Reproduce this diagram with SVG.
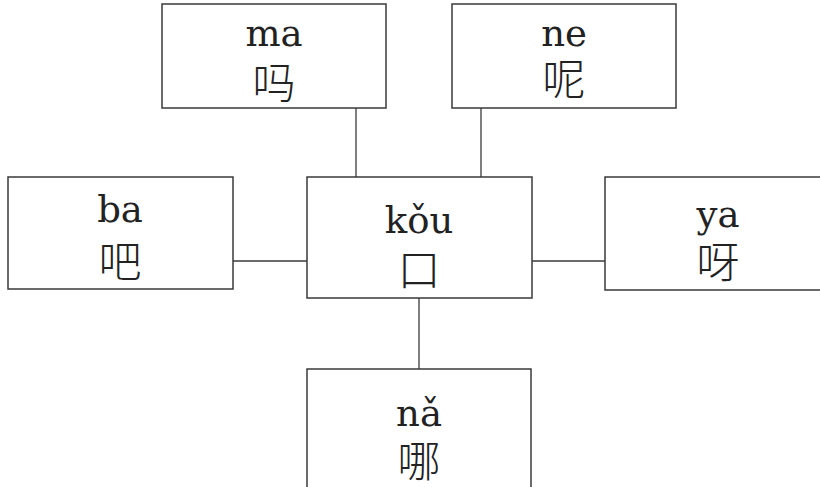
<svg xmlns="http://www.w3.org/2000/svg" width="820" height="487" viewBox="0 0 820 487">
<style>
.box{fill:#fff;stroke:#3a3a3a;stroke-width:1.5}
.lat{font-family:"DejaVu Serif","Liberation Serif",serif;font-size:37px;fill:#222;text-anchor:middle}
.cjk{font-family:"Noto Sans CJK SC","Noto Sans CJK TC",sans-serif;font-size:43px;font-weight:300;fill:#222;text-anchor:middle}
.con{stroke:#3a3a3a;stroke-width:1.3;fill:none}
</style>
<rect width="820" height="487" fill="#fff"/>
<g id="connectors">
<line class="con" x1="356" y1="108" x2="356" y2="177"/>
<line class="con" x1="481" y1="108" x2="481" y2="177"/>
<line class="con" x1="233" y1="261" x2="307" y2="261"/>
<line class="con" x1="532" y1="261" x2="605" y2="261"/>
<line class="con" x1="419" y1="298" x2="419" y2="369"/>
</g>
<g id="node-ma">
<rect class="box" x="162" y="4" width="224" height="104"/>
<text class="lat" x="274" y="46">ma</text>
<text class="cjk" x="274" y="99">吗</text>
</g>
<g id="node-ne">
<rect class="box" x="452" y="4" width="224" height="104"/>
<text class="lat" x="564" y="46">ne</text>
<text class="cjk" x="564" y="95">呢</text>
</g>
<g id="node-ba">
<rect class="box" x="8" y="177" width="225" height="112"/>
<text class="lat" x="120" y="222">ba</text>
<text class="cjk" x="120" y="277">吧</text>
</g>
<g id="node-kou">
<rect class="box" x="307" y="177" width="225" height="121"/>
<text class="lat" x="419" y="233">kǒu</text>
<text class="cjk" x="419" y="286">口</text>
</g>
<g id="node-ya">
<rect class="box" x="605" y="177" width="226" height="113"/>
<text class="lat" x="718" y="227">ya</text>
<text class="cjk" x="718" y="278">呀</text>
</g>
<g id="node-na">
<rect class="box" x="307" y="369" width="224" height="130"/>
<text class="lat" x="419" y="426">nǎ</text>
<text class="cjk" x="419" y="477">哪</text>
</g>
</svg>
